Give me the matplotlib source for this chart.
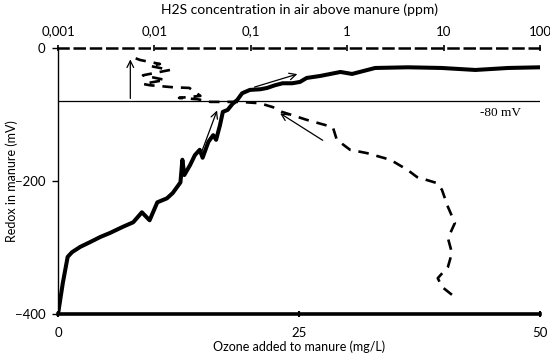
import matplotlib
matplotlib.use("Agg")
import matplotlib.pyplot as plt  # Biblioteca para gerar gráficos
import numpy as np

# Curva contínua: redox (mV) em função do ozônio adicionado (mg/L)
ozonio = [0, 0.5, 1.0, 1.45, 2.3, 3.3, 4.4, 5.4, 6.7, 7.8, 8.7, 9.5, 10.3, 11.3,
          11.9, 12.7, 12.9, 13.1, 13.7, 14.2, 14.7, 15.0, 15.6, 16.1, 16.4, 16.8,
          17.1, 17.6, 18.1, 18.6, 19.1, 19.9, 21.0, 21.7, 22.5, 23.3, 24.3, 25.1,
          25.8, 27.2, 29.3, 30.5, 32.9, 36.3, 39.8, 43.3, 46.7, 50.0]
redox_ozonio = [-400, -353, -314, -307, -299, -292, -284, -278, -269, -262, -247,
                -259, -232, -226, -218, -202, -168, -191, -176, -161, -153, -165,
                -141, -131, -138, -116, -96, -93, -84, -78, -68, -63, -62, -60,
                -56, -53, -53, -51, -45, -42, -36, -39, -30, -29, -30, -33, -30, -29]

# Curva tracejada: redox (mV) em função do H2S no ar (ppm, escala log)
h2s = [12.2, 9.6, 8.7, 11.1, 12.2, 11.1, 13.1, 11.1, 9.6, 8.5, 5.3, 4.2, 2.8,
       1.6, 1.07, 0.78, 0.71, 0.38, 0.27, 0.21, 0.17, 0.124, 0.077, 0.038,
       0.028, 0.018, 0.030, 0.023, 0.0156, 0.009, 0.0076, 0.0129, 0.0076,
       0.0145, 0.009, 0.0114, 0.0071, 0.006]
redox_h2s = [-371, -359, -346, -329, -308, -286, -263, -239, -213, -203, -194,
             -183, -168, -158, -153, -138, -119, -108, -101, -96, -89, -83, -81,
             -81, -77, -75, -72, -60, -59, -56, -54, -48, -41, -33, -27, -24,
             -18, -14]

# Rótulos dos eixos
ticks_ozonio = [0, 25, 50]
ticks_redox = [0, -200, -400]
ticks_h2s = [0.001, 0.01, 0.1, 1, 10, 100]
rotulos_h2s = ["0,001", "0,01", "0,1", "1", "10", "100"]
limite_redox = -80

fonte = "Lato"
tamanho = 9.5

fig = plt.figure(figsize=(5.5, 3.61), dpi=100)
ax = fig.add_axes([0.1055, 0.130, 0.8763, 0.737])

# Curva do ozônio (linha grossa contínua)
ax.plot(ozonio, redox_ozonio, color="black", linewidth=2.9, solid_joinstyle="round")
ax.axhline(limite_redox, color="black", linewidth=0.9)
ax.set_xlim(0, 50)
ax.set_ylim(-400, 0)
ax.set_xticks(ticks_ozonio)
ax.set_yticks(ticks_redox)
ax.tick_params(axis="x", direction="inout", length=5, width=1.5, labelsize=tamanho, pad=7)
ax.tick_params(axis="y", direction="out", length=4, width=1, labelsize=tamanho, pad=5)
for lab in ax.get_xticklabels() + ax.get_yticklabels():
    lab.set_fontfamily(fonte)
ax.set_xlabel("Ozone added to manure (mg/L)", fontsize=9, family=fonte, labelpad=1)
ax.set_ylabel("Redox in manure (mV)", fontsize=9, family=fonte)
ax.yaxis.set_label_coords(-0.083, 0.5)
ax.spines["right"].set_visible(False)
ax.spines["top"].set_visible(False)
ax.spines["bottom"].set_linewidth(2.6)
ax.spines["left"].set_linewidth(1.0)

ax.text(45.9, -98, "-80 mV", fontsize=9.5, family="Liberation Serif", ha="center", va="center")

# Setas
seta = dict(arrowstyle="->", color="black", linewidth=0.9, mutation_scale=12)
ax.annotate("", xy=(7.5, -13), xytext=(7.5, -80), arrowprops=seta)
ax.annotate("", xy=(16.6, -90), xytext=(14.7, -164), arrowprops=seta)
ax.annotate("", xy=(25.1, -38), xytext=(20.1, -60), arrowprops=seta)
ax.annotate("", xy=(22.8, -96), xytext=(27.7, -141), arrowprops=seta)

# Eixo superior: H2S em escala log
ax2 = ax.twiny()
ax2.set_xscale("log")
ax2.set_xlim(0.001, 100)
ax2.plot(h2s, redox_h2s, color="black", linewidth=1.9, linestyle=(0, (4, 3)))
ax2.set_xticks(ticks_h2s)
ax2.set_xticklabels(rotulos_h2s, family=fonte, fontsize=tamanho)
ax2.minorticks_off()
ax2.tick_params(axis="x", direction="inout", length=5, width=1.2, pad=5)
ax2.set_xlabel("H2S concentration in air above manure (ppm)", fontsize=10,
               family=fonte, labelpad=8)
for lado in ["left", "right", "bottom"]:
    ax2.spines[lado].set_visible(False)
ax2.spines["top"].set_linestyle((0, (4, 2.5)))
ax2.spines["top"].set_linewidth(1.8)

fig.savefig("out.png", dpi=100)
plt.close(fig)
